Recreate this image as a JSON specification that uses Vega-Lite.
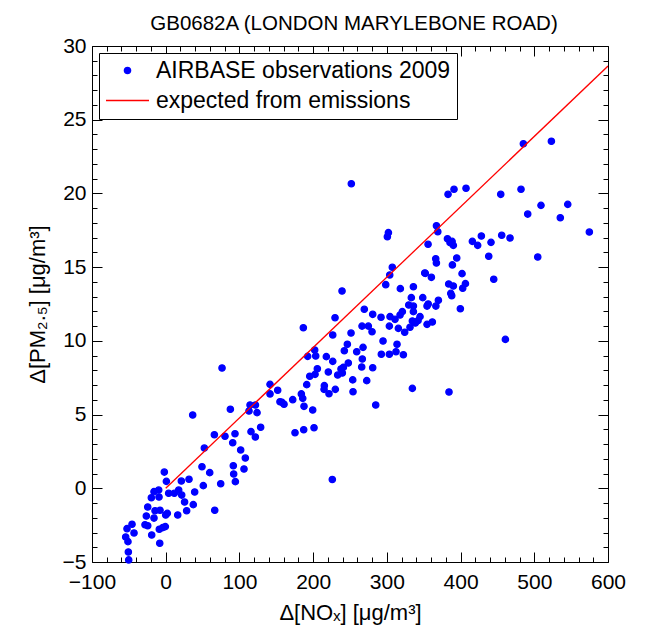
{
  "$schema": "https://vega.github.io/schema/vega-lite/v6.json",
  "width": 516,
  "height": 516,
  "autosize": "none",
  "padding": {"left": 92, "top": 46, "right": 37, "bottom": 71},
  "background": "white",
  "config": {
    "font": "Liberation Sans",
    "view": {"stroke": "black", "strokeWidth": 1},
    "axis": {"grid": false, "domain": false, "tickColor": "black", "tickWidth": 1, "labelColor": "black", "labelFontSize": 21, "titleFontSize": 22, "titleFontWeight": "normal", "titleColor": "black", "labelFont": "Liberation Sans", "titleFont": "Liberation Sans", "labelFlush": false, "labelOverlap": false},
    "legend": {"orient": "top-left", "offset": 7, "title": null, "fillColor": "white", "strokeColor": "black", "padding": 6, "labelFontSize": 23, "labelFont": "Liberation Sans", "labelColor": "black", "labelOffset": 6, "labelLimit": 0, "rowPadding": 6, "clipHeight": 23, "symbolStrokeWidth": 1.3, "symbolOpacity": 1}
  },
  "title": {"text": "GB0682A (LONDON MARYLEBONE ROAD)", "fontSize": 20.5, "fontWeight": "normal", "font": "Liberation Sans", "anchor": "middle", "frame": "group", "baseline": "alphabetic", "offset": -15, "dx": 4, "color": "black"},
  "datasets": {
    "obs": [
      {"nox": 36.6, "pm": 4.97}, {"nox": 87.7, "pm": 5.36}, {"nox": 114.4, "pm": 5.65}, {"nox": 121.7, "pm": 5.65}, {"nox": 123.9, "pm": 5.13}, {"nox": 113, "pm": 5.24}, {"nox": 155, "pm": 5.87}, {"nox": 128.8, "pm": 4.14}, {"nox": 121.6, "pm": 3.48}, {"nox": 115.7, "pm": 3.84}, {"nox": 66, "pm": 3.63}, {"nox": 80.4, "pm": 3.53}, {"nox": 94, "pm": 3.7}, {"nox": 90.9, "pm": 3.09}, {"nox": 101.7, "pm": 2.6}, {"nox": 108, "pm": 2.05}, {"nox": 106.2, "pm": 1.31}, {"nox": 91.7, "pm": 1.53}, {"nox": 92.2, "pm": 0.97}, {"nox": 94.5, "pm": 0.45}, {"nox": 74.6, "pm": 0.31}, {"nox": 59.7, "pm": 1.06}, {"nox": 49.2, "pm": 1.46}, {"nox": 52.4, "pm": 2.73}, {"nox": 31.6, "pm": 0.61}, {"nox": 39.3, "pm": -0.25}, {"nox": 51, "pm": 0.18}, {"nox": 37.4, "pm": -1.11}, {"nox": 28.4, "pm": -1.52}, {"nox": 25.6, "pm": -0.93}, {"nox": 21.7, "pm": -0.46}, {"nox": 17.6, "pm": -0.12}, {"nox": 11.7, "pm": -0.34}, {"nox": 4, "pm": -0.34}, {"nox": 21.2, "pm": 0.49}, {"nox": 16.3, "pm": -1.81}, {"nox": 0.9, "pm": 0.47}, {"nox": -1.9, "pm": 1.1}, {"nox": 2.2, "pm": -1.7}, {"nox": 0, "pm": -1.81}, {"nox": 66.5, "pm": -1.49}, {"nox": -9.1, "pm": -0.59}, {"nox": -7.7, "pm": -1.49}, {"nox": -14.5, "pm": -1.52}, {"nox": -9.5, "pm": -0.12}, {"nox": -15.9, "pm": -0.23}, {"nox": -19.5, "pm": -0.64}, {"nox": -24.4, "pm": -1.27}, {"nox": -15.9, "pm": -2.02}, {"nox": -26.3, "pm": -1.88}, {"nox": -28.1, "pm": -2.47}, {"nox": -24.4, "pm": -2.54}, {"nox": -19, "pm": -3.17}, {"nox": -8.7, "pm": -2.78}, {"nox": -4.1, "pm": -2.67}, {"nox": -0.5, "pm": -2.6}, {"nox": -8.1, "pm": -3.73}, {"nox": -45.7, "pm": -2.44}, {"nox": -52.5, "pm": -2.74}, {"nox": -43, "pm": -3.03}, {"nox": -54.3, "pm": -3.3}, {"nox": -51.2, "pm": -3.62}, {"nox": -50.7, "pm": -4.32}, {"nox": -50.2, "pm": -4.86},
      {"nox": 76.4, "pm": 8.16}, {"nox": 141.5, "pm": 7.05}, {"nox": 141.5, "pm": 6.4}, {"nox": 151.9, "pm": 6.65}, {"nox": 157.8, "pm": 5.83}, {"nox": 160.5, "pm": 5.7}, {"nox": 172.3, "pm": 6.01}, {"nox": 184, "pm": 6.4}, {"nox": 185.9, "pm": 6.1}, {"nox": 187.6, "pm": 5.56}, {"nox": 199.4, "pm": 5.31}, {"nox": 175.4, "pm": 3.77}, {"nox": 187.2, "pm": 3.97}, {"nox": 201.2, "pm": 4.11}, {"nox": 186.7, "pm": 10.89}, {"nox": 191.3, "pm": 7.03}, {"nox": 195.4, "pm": 7.6}, {"nox": 202.6, "pm": 7.73}, {"nox": 205.7, "pm": 8.11}, {"nox": 192.6, "pm": 8.95}, {"nox": 202.1, "pm": 9.38}, {"nox": 203.5, "pm": 8.97}, {"nox": 217.9, "pm": 8.93}, {"nox": 226.6, "pm": 8.61}, {"nox": 220.6, "pm": 7.89}, {"nox": 215.2, "pm": 6.96}, {"nox": 214.8, "pm": 6.71}, {"nox": 221.5, "pm": 6.41}, {"nox": 230.1, "pm": 6.71}, {"nox": 229.7, "pm": 11.57}, {"nox": 226.6, "pm": 10.4}, {"nox": 239.2, "pm": 13.38}, {"nox": 251.4, "pm": 10.53}, {"nox": 246.4, "pm": 9.77}, {"nox": 242.3, "pm": 9.33}, {"nox": 233.3, "pm": 7.68}, {"nox": 241, "pm": 8.2}, {"nox": 237.8, "pm": 8.09}, {"nox": 239.6, "pm": 7.82}, {"nox": 247.7, "pm": 8.5}, {"nox": 253.7, "pm": 7.35}, {"nox": 254.1, "pm": 6.55}, {"nox": 272.7, "pm": 7.3}, {"nox": 259.1, "pm": 9.26}, {"nox": 267.7, "pm": 9.56}, {"nox": 266.7, "pm": 8.77}, {"nox": 265.9, "pm": 8.23}, {"nox": 280.8, "pm": 8.18}, {"nox": 284.9, "pm": 5.65}, {"nox": 269.4, "pm": 12.14}, {"nox": 266.3, "pm": 11.0}, {"nox": 274.9, "pm": 11.0}, {"nox": 280.8, "pm": 11.8}, {"nox": 279.9, "pm": 10.62}, {"nox": 292.1, "pm": 11.6}, {"nox": 294.8, "pm": 9.99}, {"nox": 292.5, "pm": 9.09}, {"nox": 303.4, "pm": 9.09}, {"nox": 313.8, "pm": 9.77}, {"nox": 312.4, "pm": 9.26}, {"nox": 322.4, "pm": 9.06}, {"nox": 303.4, "pm": 11.0}, {"nox": 315.6, "pm": 10.85}, {"nox": 304.3, "pm": 11.64}, {"nox": 311.1, "pm": 11.46}, {"nox": 317.9, "pm": 11.75}, {"nox": 321, "pm": 11.98}, {"nox": 324.2, "pm": 10.58}, {"nox": 331.4, "pm": 10.92}, {"nox": 334.6, "pm": 11.35}, {"nox": 338.6, "pm": 11.21}, {"nox": 342.3, "pm": 11.37}, {"nox": 345, "pm": 11.64}, {"nox": 348.7, "pm": 12.93}, {"nox": 333.2, "pm": 12.93}, {"nox": 336, "pm": 13.67}, {"nox": 329.7, "pm": 12.43}, {"nox": 336, "pm": 12.36}, {"nox": 318.3, "pm": 13.54}, {"nox": 298.5, "pm": 13.81}, {"nox": 303.9, "pm": 14.47}, {"nox": 307.4, "pm": 14.99}, {"nox": 351.4, "pm": 14.6}, {"nox": 354.5, "pm": 12.36}, {"nox": 354.5, "pm": 11.12}, {"nox": 334.6, "pm": 6.78},
      {"nox": 251.8, "pm": 20.66}, {"nox": 485.2, "pm": 23.37}, {"nox": 523.2, "pm": 23.54}, {"nox": 383, "pm": 19.94}, {"nox": 391.1, "pm": 20.28}, {"nox": 407.4, "pm": 20.35}, {"nox": 454.5, "pm": 19.94}, {"nox": 482, "pm": 20.28}, {"nox": 509.1, "pm": 19.19}, {"nox": 545.4, "pm": 19.26}, {"nox": 491.1, "pm": 18.6}, {"nox": 535.3, "pm": 18.35}, {"nox": 574.7, "pm": 17.38}, {"nox": 504.7, "pm": 15.69}, {"nox": 460.8, "pm": 10.1}, {"nox": 367.3, "pm": 17.81}, {"nox": 369.1, "pm": 17.4}, {"nox": 355.9, "pm": 16.55}, {"nox": 300.7, "pm": 17.06}, {"nox": 302.1, "pm": 17.34}, {"nox": 382.2, "pm": 16.93}, {"nox": 388.5, "pm": 16.75}, {"nox": 385.7, "pm": 16.66}, {"nox": 390.2, "pm": 16.48}, {"nox": 416, "pm": 16.75}, {"nox": 423.2, "pm": 16.48}, {"nox": 428.2, "pm": 17.11}, {"nox": 441.3, "pm": 16.68}, {"nox": 455.8, "pm": 17.16}, {"nox": 467.1, "pm": 16.98}, {"nox": 438.2, "pm": 15.74}, {"nox": 445, "pm": 14.18}, {"nox": 394.8, "pm": 15.62}, {"nox": 366.3, "pm": 15.57}, {"nox": 367.2, "pm": 15.28}, {"nox": 388.9, "pm": 15.15}, {"nox": 402, "pm": 14.56}, {"nox": 406.6, "pm": 13.88}, {"nox": 402.9, "pm": 13.57}, {"nox": 383.9, "pm": 13.86}, {"nox": 390.2, "pm": 13.72}, {"nox": 386.7, "pm": 13.22}, {"nox": 388, "pm": 13.06}, {"nox": 399.7, "pm": 12.18}, {"nox": 352.2, "pm": 14.58}, {"nox": 360.4, "pm": 14.31}, {"nox": 369.9, "pm": 12.75}, {"nox": 366.5, "pm": 12.36}, {"nox": 356.1, "pm": 12.5}, {"nox": 336, "pm": 11.98}, {"nox": 361.7, "pm": 11.28}, {"nox": 384.3, "pm": 6.53}, {"nox": 226, "pm": 0.6}
    ],
    "expected": [
      {"nox": 0, "pm": 0}, {"nox": 600, "pm": 28.64}
    ]
  },
  "layer": [
    {
      "data": {"name": "obs"},
      "transform": [{"calculate": "'AIRBASE observations 2009'", "as": "series"}],
      "mark": {"type": "point", "filled": true, "opacity": 1, "strokeWidth": 1.3},
      "encoding": {
        "x": {"field": "nox", "type": "quantitative", "scale": {"domain": [-100, 600], "nice": false, "zero": false},
          "axis": {"orient": "bottom", "values": [-100, 0, 100, 200, 300, 400, 500, 600], "tickSize": -10, "labelPadding": 19, "title": "Δ[NOₓ] [μg/m³]", "titleBaseline": "alphabetic", "titleY": 57}},
        "y": {"field": "pm", "type": "quantitative", "scale": {"domain": [-5, 30], "nice": false, "zero": false},
          "axis": {"orient": "left", "values": [-5, 0, 5, 10, 15, 20, 25, 30], "tickSize": -10, "labelPadding": 16, "title": "Δ[PM₂.₅] [μg/m³]", "titleBaseline": "alphabetic", "titleX": -48, "titleAngle": -90}},
        "color": {"field": "series", "type": "nominal",
          "scale": {"domain": ["AIRBASE observations 2009", "expected from emissions"], "range": ["#0000ff", "#ff0000"]},
          "legend": {"title": null}},
        "stroke": {"field": "series", "type": "nominal",
          "scale": {"domain": ["AIRBASE observations 2009", "expected from emissions"], "range": ["#0000ff", "#ff0000"]},
          "legend": {"title": null}},
        "shape": {"field": "series", "type": "nominal",
          "scale": {"domain": ["AIRBASE observations 2009", "expected from emissions"], "range": ["circle", "stroke"]},
          "legend": {"title": null}},
        "size": {"field": "series", "type": "nominal",
          "scale": {"domain": ["AIRBASE observations 2009", "expected from emissions"], "range": [40, 1849]},
          "legend": {"title": null}}
      }
    },
    {
      "data": {"name": "expected"},
      "transform": [{"calculate": "'expected from emissions'", "as": "series"}],
      "mark": {"type": "line", "strokeWidth": 1.3, "clip": true},
      "encoding": {
        "x": {"field": "nox", "type": "quantitative", "scale": {"domain": [-100, 600], "nice": false, "zero": false},
          "axis": {"orient": "top", "values": [-100, 0, 100, 200, 300, 400, 500, 600], "tickSize": -10, "labels": false, "title": null}},
        "y": {"field": "pm", "type": "quantitative", "scale": {"domain": [-5, 30], "nice": false, "zero": false},
          "axis": {"orient": "right", "values": [-5, 0, 5, 10, 15, 20, 25, 30], "tickSize": -10, "labels": false, "title": null}},
        "stroke": {"field": "series", "type": "nominal",
          "scale": {"domain": ["AIRBASE observations 2009", "expected from emissions"], "range": ["#0000ff", "#ff0000"]},
          "legend": null}
      }
    },
    {
      "data": {"name": "expected"},
      "mark": {"type": "line", "strokeOpacity": 0},
      "encoding": {
        "x": {"field": "nox", "type": "quantitative", "scale": {"domain": [-100, 600], "nice": false, "zero": false},
          "axis": {"orient": "bottom", "values": [-80, -60, -40, -20, 20, 40, 60, 80, 120, 140, 160, 180, 220, 240, 260, 280, 320, 340, 360, 380, 420, 440, 460, 480, 520, 540, 560, 580], "tickSize": -5, "labels": false, "title": null}},
        "y": {"field": "pm", "type": "quantitative", "scale": {"domain": [-5, 30], "nice": false, "zero": false},
          "axis": {"orient": "left", "values": [-4, -3, -2, -1, 1, 2, 3, 4, 6, 7, 8, 9, 11, 12, 13, 14, 16, 17, 18, 19, 21, 22, 23, 24, 26, 27, 28, 29], "tickSize": -5, "labels": false, "title": null}}
      }
    },
    {
      "data": {"name": "expected"},
      "mark": {"type": "line", "strokeOpacity": 0},
      "encoding": {
        "x": {"field": "nox", "type": "quantitative", "scale": {"domain": [-100, 600], "nice": false, "zero": false},
          "axis": {"orient": "top", "values": [-80, -60, -40, -20, 20, 40, 60, 80, 120, 140, 160, 180, 220, 240, 260, 280, 320, 340, 360, 380, 420, 440, 460, 480, 520, 540, 560, 580], "tickSize": -5, "labels": false, "title": null}},
        "y": {"field": "pm", "type": "quantitative", "scale": {"domain": [-5, 30], "nice": false, "zero": false},
          "axis": {"orient": "right", "values": [-4, -3, -2, -1, 1, 2, 3, 4, 6, 7, 8, 9, 11, 12, 13, 14, 16, 17, 18, 19, 21, 22, 23, 24, 26, 27, 28, 29], "tickSize": -5, "labels": false, "title": null}}
      }
    }
  ],
  "resolve": {"axis": {"x": "independent", "y": "independent"}}
}
